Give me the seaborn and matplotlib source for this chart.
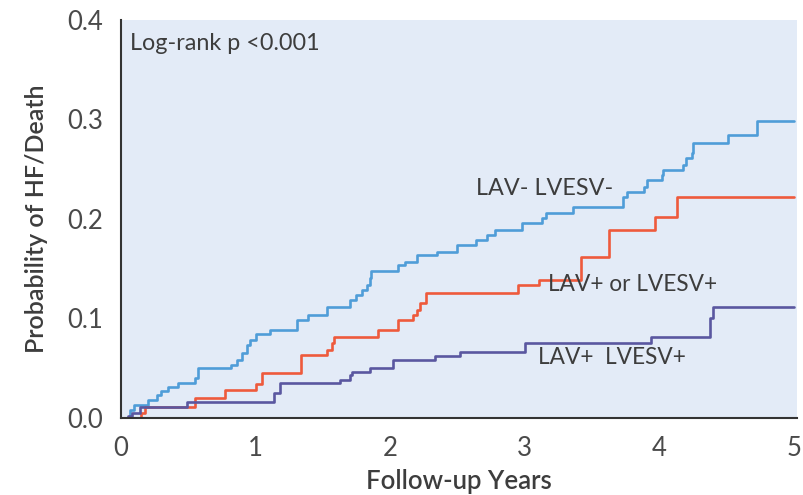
import matplotlib
matplotlib.use("Agg")
import matplotlib.pyplot as plt
import seaborn as sns
import pandas as pd

# ---- data ----
groups = ["LAV- LVESV-", "LAV+ or LVESV+", "LAV+  LVESV+"]

t_neg = [0, 0.07, 0.10, 0.20, 0.27, 0.30, 0.35, 0.42, 0.55, 0.57, 0.82, 0.86, 0.90, 0.94,
         0.96, 1.00, 1.11, 1.31, 1.39, 1.53, 1.70, 1.75, 1.79, 1.83, 1.85, 1.86, 2.06, 2.11,
         2.20, 2.35, 2.50, 2.64, 2.72, 2.78, 2.98, 3.13, 3.16, 3.36, 3.73, 3.76, 3.89, 3.91,
         4.02, 4.03, 4.18, 4.20, 4.24, 4.25, 4.51, 4.73, 5.0]
p_neg = [0, 0.008, 0.013, 0.018, 0.023, 0.027, 0.031, 0.035, 0.040, 0.050, 0.053, 0.058,
         0.065, 0.073, 0.078, 0.084, 0.088, 0.098, 0.104, 0.112, 0.119, 0.124, 0.129, 0.134,
         0.141, 0.148, 0.154, 0.157, 0.164, 0.167, 0.174, 0.179, 0.184, 0.189, 0.196, 0.201,
         0.206, 0.212, 0.222, 0.227, 0.232, 0.239, 0.244, 0.249, 0.254, 0.261, 0.266, 0.276,
         0.284, 0.298, 0.298]

t_one = [0, 0.15, 0.18, 0.55, 0.77, 1.00, 1.05, 1.34, 1.53, 1.57, 1.58, 1.91, 2.06, 2.17,
         2.20, 2.22, 2.27, 2.95, 3.11, 3.42, 3.63, 3.97, 4.13, 5.0]
p_one = [0, 0.005, 0.011, 0.020, 0.028, 0.034, 0.045, 0.063, 0.068, 0.075, 0.081, 0.088,
         0.098, 0.104, 0.109, 0.116, 0.126, 0.134, 0.139, 0.162, 0.189, 0.202, 0.222, 0.222]

t_both = [0, 0.05, 0.08, 0.14, 0.49, 1.14, 1.18, 1.63, 1.70, 1.72, 1.85, 2.02, 2.33, 2.52,
          3.00, 3.94, 4.38, 4.40, 5.0]
p_both = [0, 0.002, 0.005, 0.011, 0.016, 0.025, 0.035, 0.038, 0.043, 0.046, 0.050, 0.058,
          0.062, 0.066, 0.075, 0.081, 0.100, 0.112, 0.112]

x_ticks = [0, 1, 2, 3, 4, 5]
y_ticks = [0.0, 0.1, 0.2, 0.3, 0.4]
y_tick_labels = ["0.0", "0.1", "0.2", "0.3", "0.4"]

colors = {groups[0]: "#4f9dd8", groups[1]: "#ee5a3c", groups[2]: "#5a57a0"}

df = pd.concat([
    pd.DataFrame({"t": t_neg, "p": p_neg, "group": groups[0]}),
    pd.DataFrame({"t": t_one, "p": p_one, "group": groups[1]}),
    pd.DataFrame({"t": t_both, "p": p_both, "group": groups[2]}),
], ignore_index=True)

# ---- figure ----
sns.set_style("white")
plt.rcParams["font.family"] = ["Lato", "DejaVu Sans"]
txt = "#3d3d3d"

fig = plt.figure(figsize=(8.04, 4.95), dpi=100)
ax = fig.add_axes([0.1505, 0.1556, 0.8405, 0.804])
ax.set_facecolor("#e3ebf7")

sns.lineplot(data=df, x="t", y="p", hue="group", palette=colors, estimator=None,
             sort=False, drawstyle="steps-post", linewidth=1.9, legend=False, ax=ax)

ax.set_xlim(0, 5.022)
ax.set_ylim(0, 0.4)
ax.set_xticks(x_ticks)
ax.set_xticklabels([str(v) for v in x_ticks])
ax.set_yticks(y_ticks)
ax.set_yticklabels(y_tick_labels)

for s in ["top", "right"]:
    ax.spines[s].set_visible(False)
for s in ["left", "bottom"]:
    ax.spines[s].set_color("#333333")
    ax.spines[s].set_linewidth(1.5)

ax.tick_params(axis="both", direction="out", length=7, width=1.5, color="#333333",
               labelsize=18.5, labelcolor="#4a4a4a")
ax.tick_params(axis="y", pad=6)
ax.tick_params(axis="x", pad=6)

ax.set_xlabel("Follow-up Years", fontsize=18.5, color=txt, fontweight="semibold", labelpad=6)
ax.set_ylabel("Probability of HF/Death", fontsize=18, color=txt, fontweight="semibold", labelpad=14)

ax.text(0.067, 0.376, "Log-rank p <0.001", fontsize=16.8, color=txt, va="center", ha="left")
ax.text(2.64, 0.231, "LAV- LVESV-", fontsize=16.8, color=txt, va="center", ha="left")
ax.text(3.17, 0.134, "LAV+ or LVESV+", fontsize=16.3, color=txt, va="center", ha="left")
ax.text(3.10, 0.061, "LAV+  LVESV+", fontsize=16.3, color=txt, va="center", ha="left")

fig.savefig("out.png", dpi=100)
